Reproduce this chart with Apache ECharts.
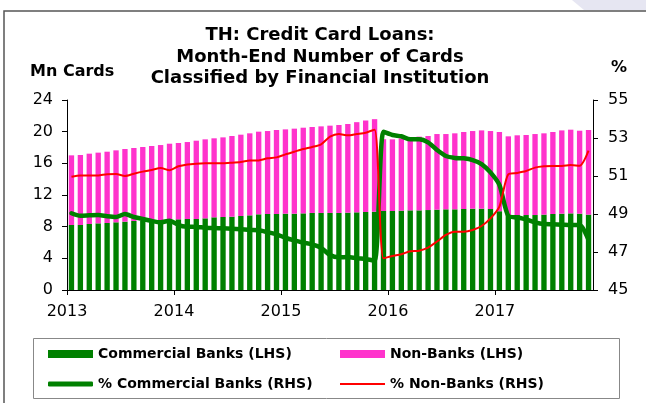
<!DOCTYPE html>
<html>
<head>
<meta charset="utf-8">
<script src="https://cdn.jsdelivr.net/npm/echarts@6/dist/echarts.min.js"></script>
<style>
  html, body { margin: 0; padding: 0; background: #fff; }
  #chart { width: 646px; height: 403px; }
</style>
</head>
<body>
<div id="chart"></div>
<script>
// monthly data, Jan 2013 - Nov 2017
const years = ['2013', '2014', '2015', '2016', '2017']
const lastMonth = 11 // data ends Nov 2017

// Mn cards (LHS)
const commercialBanks = [
  8.21, 8.21, 8.34, 8.42, 8.46, 8.55, 8.63, 8.72, 8.76, 8.80, 8.84, 8.88,
  8.93, 8.97, 8.97, 9.05, 9.18, 9.22, 9.26, 9.35, 9.43, 9.56, 9.60, 9.60,
  9.64, 9.64, 9.68, 9.73, 9.73, 9.73, 9.73, 9.77, 9.81, 9.85, 9.89, 9.98,
  9.98, 10.02, 10.06, 10.06, 10.10, 10.15, 10.19, 10.19, 10.23, 10.27, 10.27, 10.23,
  9.95, 9.45, 9.47, 9.47, 9.47, 9.52, 9.60, 9.64, 9.68, 9.64, 9.52
]
const nonBanks = [
  8.80, 8.84, 8.88, 8.93, 9.01, 9.09, 9.18, 9.22, 9.30, 9.39, 9.47, 9.60,
  9.64, 9.72, 9.89, 9.98, 9.98, 10.06, 10.19, 10.27, 10.36, 10.44, 10.48, 10.61,
  10.65, 10.74, 10.82, 10.86, 10.94, 11.03, 11.11, 11.20, 11.39, 11.56, 11.69, 9.07,
  9.05, 9.14, 9.18, 9.31, 9.35, 9.55, 9.51, 9.60, 9.73, 9.81, 9.89, 9.85,
  10.01, 9.96, 10.07, 10.11, 10.23, 10.27, 10.36, 10.52, 10.57, 10.48, 10.69
]

// % share (RHS)
const pctCommercial = [
  49.04, 48.91, 48.93, 48.95, 48.88, 48.84, 49.00, 48.84, 48.74, 48.63, 48.56, 48.65,
  48.42, 48.33, 48.32, 48.28, 48.26, 48.25, 48.23, 48.20, 48.16, 48.14, 48.04, 47.93,
  47.75, 47.61, 47.49, 47.40, 47.22, 46.84, 46.72, 46.74, 46.67, 46.63, 46.54, 53.33,
  53.16, 53.09, 52.93, 52.93, 52.77, 52.37, 52.05, 51.95, 51.93, 51.84, 51.63, 51.19,
  50.53, 48.90, 48.82, 48.72, 48.56, 48.47, 48.46, 48.44, 48.42, 48.42, 47.63
]
const pctNonBanks = [
  50.96, 51.03, 51.02, 51.03, 51.09, 51.11, 51.00, 51.12, 51.23, 51.32, 51.42, 51.30,
  51.51, 51.61, 51.65, 51.67, 51.67, 51.67, 51.70, 51.74, 51.81, 51.82, 51.93, 51.98,
  52.14, 52.28, 52.42, 52.53, 52.67, 53.07, 53.21, 53.14, 53.21, 53.28, 53.44, 46.67,
  46.79, 46.88, 47.04, 47.07, 47.23, 47.55, 47.90, 48.07, 48.07, 48.16, 48.37, 48.77,
  49.39, 51.09, 51.16, 51.26, 51.44, 51.51, 51.53, 51.53, 51.58, 51.54, 52.33
]

const leftTicks = [0, 4, 8, 12, 16, 20, 24]
const rightTicks = [45, 47, 49, 51, 53, 55]

const months = []
years.forEach((y, yi) => {
  const n = yi === years.length - 1 ? lastMonth : 12
  for (let m = 1; m <= n; m++) months.push(y + '-' + String(m).padStart(2, '0'))
})
const yearTicks = years.map((y, i) => i * 12)

const FONT = '"DejaVu Sans", "Liberation Sans", sans-serif'
const GREEN = '#008000'
const PINK = '#ff33cc'
const RED = '#ff0000'

const legendText = { fontFamily: FONT, fontSize: 14, fontWeight: 'bold', color: '#000' }

function legendItem(name, left, top, icon, h) {
  return {
    data: [name],
    left,
    top,
    padding: 0,
    icon,
    itemWidth: 45,
    itemHeight: h,
    selectedMode: false,
    textStyle: legendText
  }
}

const chart = echarts.init(document.getElementById('chart'), null, { renderer: 'canvas' })

chart.setOption({
  animation: false,
  backgroundColor: '#fff',
  textStyle: { fontFamily: FONT, color: '#000' },
  legend: [
    legendItem('Commercial Banks (LHS)', 48, 347, 'rect', 8),
    legendItem('Non-Banks (LHS)', 340, 347, 'rect', 8),
    legendItem('% Commercial Banks (RHS)', 48, 377, 'roundRect', 5),
    legendItem('% Non-Banks (RHS)', 340, 377, 'rect', 2)
  ],
  grid: { left: 67, right: 53, top: 100, bottom: 113, containLabel: false },
  xAxis: [
    {
      type: 'category',
      data: months,
      boundaryGap: true,
      axisLine: { lineStyle: { color: '#000', width: 1 } },
      axisTick: { show: false },
      axisLabel: { show: false },
      splitLine: { show: false }
    },
    {
      type: 'value',
      min: 0,
      max: months.length,
      position: 'bottom',
      axisLine: { show: false },
      axisTick: { show: true, length: 5, customValues: yearTicks, lineStyle: { color: '#000' } },
      axisLabel: {
        customValues: yearTicks,
        formatter: v => years[v / 12] || '',
        fontFamily: FONT,
        fontSize: 16,
        color: '#000',
        margin: 14
      },
      splitLine: { show: false }
    }
  ],
  yAxis: [
    {
      type: 'value',
      min: 0,
      max: 24,
      interval: 4,
      position: 'left',
      axisLine: { show: true, lineStyle: { color: '#000' } },
      axisTick: { show: true, length: 5, customValues: leftTicks, lineStyle: { color: '#000' } },
      axisLabel: { customValues: leftTicks, fontFamily: FONT, fontSize: 16, color: '#000', margin: 14 },
      splitLine: { show: false }
    },
    {
      type: 'value',
      min: 45,
      max: 55,
      position: 'right',
      axisLine: { show: true, lineStyle: { color: '#000' } },
      axisTick: { show: true, length: 5, customValues: rightTicks, lineStyle: { color: '#000' } },
      axisLabel: { customValues: rightTicks, fontFamily: FONT, fontSize: 16, color: '#000', margin: 15 },
      splitLine: { show: false }
    }
  ],
  series: [
    {
      name: 'Commercial Banks (LHS)',
      type: 'bar',
      stack: 'cards',
      data: commercialBanks,
      barCategoryGap: '40%',
      itemStyle: { color: GREEN }
    },
    {
      name: 'Non-Banks (LHS)',
      type: 'bar',
      stack: 'cards',
      data: nonBanks,
      barCategoryGap: '40%',
      itemStyle: { color: PINK }
    },
    {
      name: '% Commercial Banks (RHS)',
      type: 'line',
      yAxisIndex: 1,
      data: pctCommercial,
      symbol: 'none',
      smooth: 0.25,
      z: 4,
      lineStyle: { color: GREEN, width: 4.5, cap: 'round', join: 'round' },
      itemStyle: { color: GREEN }
    },
    {
      name: '% Non-Banks (RHS)',
      type: 'line',
      yAxisIndex: 1,
      data: pctNonBanks,
      symbol: 'none',
      smooth: 0.25,
      z: 5,
      lineStyle: { color: RED, width: 2 },
      itemStyle: { color: RED }
    }
  ],
  graphic: [
    {
      type: 'polygon',
      shape: { points: [[572, 0], [646, 0], [646, 10], [584, 10]] },
      style: { fill: '#e6e6f2' },
      silent: true
    },
    {
      type: 'polyline',
      shape: { points: [[4, 403], [4, 11], [646, 11]] },
      style: { stroke: '#555', lineWidth: 1.5, fill: null },
      silent: true
    },
    {
      type: 'rect',
      shape: { x: 33.5, y: 338.5, width: 586, height: 60 },
      style: { stroke: '#888', lineWidth: 1, fill: null },
      silent: true
    },
    {
      type: 'text',
      style: {
        x: 320,
        y: 25,
        text: 'TH: Credit Card Loans:\nMonth-End Number of Cards\nClassified by Financial Institution',
        align: 'center',
        verticalAlign: 'top',
        font: 'bold 18px ' + FONT,
        lineHeight: 21.5,
        fill: '#000'
      }
    },
    {
      type: 'text',
      style: { x: 30, y: 71.5, text: 'Mn Cards', verticalAlign: 'middle', font: 'bold 16px ' + FONT, fill: '#000' }
    },
    {
      type: 'text',
      style: { x: 611, y: 67.5, text: '%', verticalAlign: 'middle', font: 'bold 16px ' + FONT, fill: '#000' }
    }
  ]
})

window.addEventListener('resize', () => chart.resize())
</script>
</body>
</html>
